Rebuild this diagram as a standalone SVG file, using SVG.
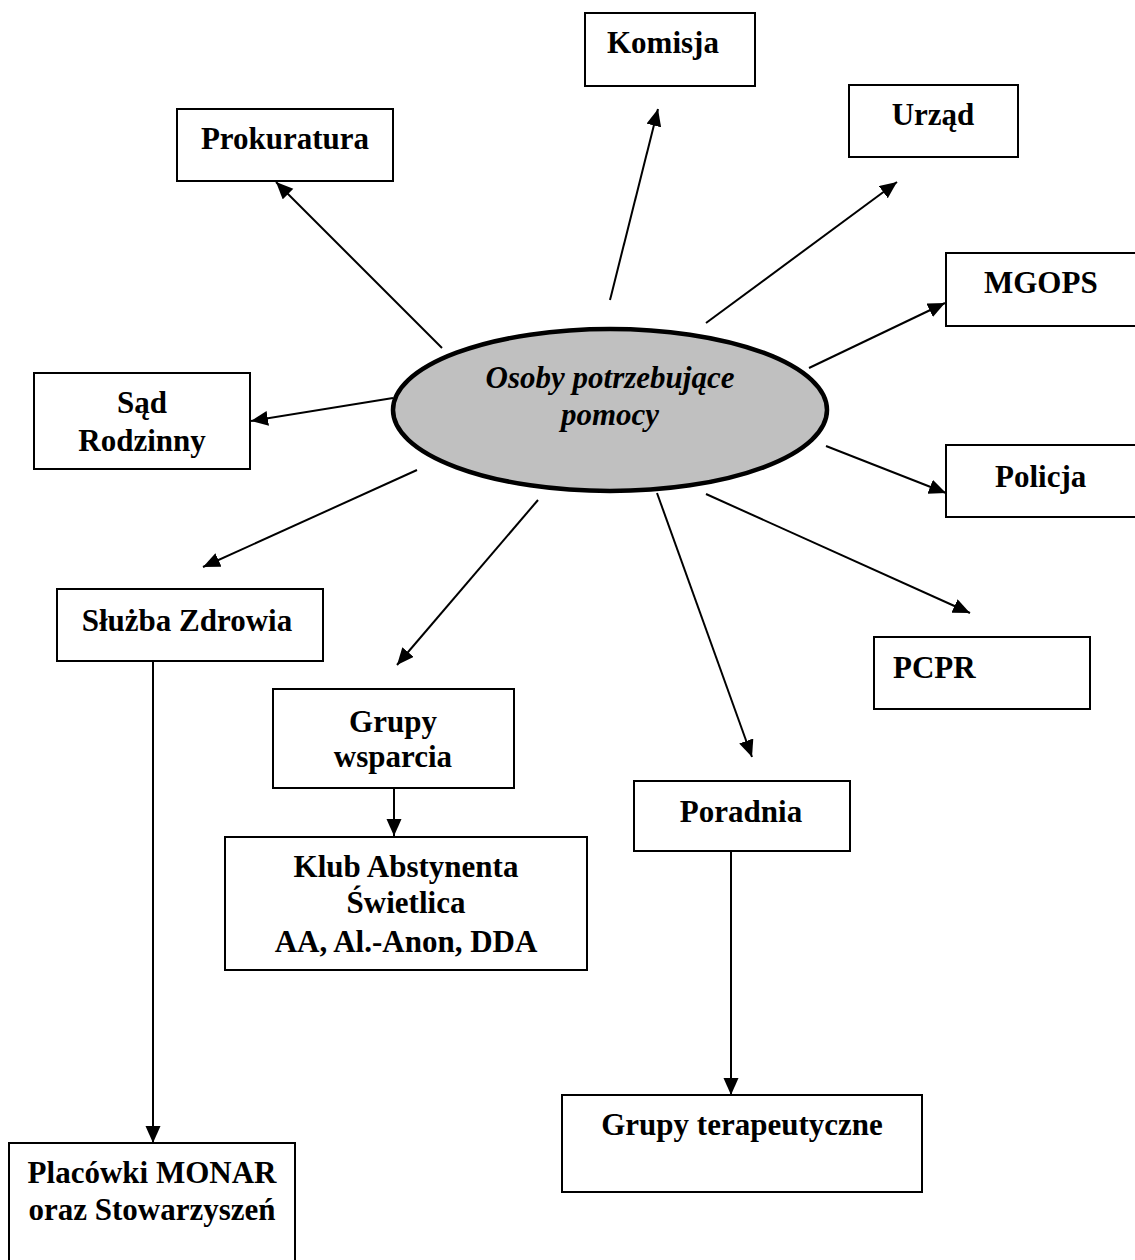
<svg xmlns="http://www.w3.org/2000/svg" width="1135" height="1260" viewBox="0 0 1135 1260">
<defs>
<style>
.box{fill:#fff;stroke:#000;stroke-width:2}
.t{font-family:"Liberation Serif","Times New Roman",serif;font-weight:bold;font-size:31px;fill:#000}
.c{text-anchor:middle}
.ln{stroke:#000;stroke-width:2;fill:none;marker-end:url(#ah)}
</style>
<marker id="ah" markerUnits="userSpaceOnUse" markerWidth="18" markerHeight="16" refX="17" refY="7.5" orient="auto">
<path d="M0,0 L17,7.5 L0,15 z" fill="#000"/>
</marker>
</defs>
<rect width="1135" height="1260" fill="#fff"/>
<g id="connectors">
<line class="ln" x1="442" y1="348" x2="276" y2="182"/>
<line class="ln" x1="610" y1="300" x2="658" y2="109"/>
<line class="ln" x1="706" y1="323" x2="897" y2="182"/>
<line class="ln" x1="809" y1="368" x2="945" y2="303"/>
<line class="ln" x1="826" y1="446" x2="946" y2="493"/>
<line class="ln" x1="706" y1="494" x2="970" y2="613"/>
<line class="ln" x1="657" y1="493" x2="752" y2="757"/>
<line class="ln" x1="538" y1="500" x2="397" y2="665"/>
<line class="ln" x1="417" y1="470" x2="203" y2="567"/>
<line class="ln" x1="393" y1="398" x2="251" y2="421"/>
<line class="ln" x1="394" y1="788" x2="394" y2="836"/>
<line class="ln" x1="153" y1="661" x2="153" y2="1143"/>
<line class="ln" x1="731" y1="851" x2="731" y2="1095"/>
</g>
<g id="center">
<ellipse cx="610" cy="410" rx="217" ry="81" fill="#c0c0c0" stroke="#000" stroke-width="4.5"/>
<text class="t c" x="610" y="388" font-style="italic">Osoby potrzebujące</text>
<text class="t c" x="610" y="425" font-style="italic">pomocy</text>
</g>
<g id="komisja">
<rect class="box" x="585" y="13" width="170" height="73"/>
<text class="t" x="607" y="53">Komisja</text>
</g>
<g id="prokuratura">
<rect class="box" x="177" y="109" width="216" height="72"/>
<text class="t c" x="285" y="149">Prokuratura</text>
</g>
<g id="urzad">
<rect class="box" x="849" y="85" width="169" height="72"/>
<text class="t c" x="933" y="125">Urząd</text>
</g>
<g id="mgops">
<rect class="box" x="946" y="253" width="200" height="73"/>
<text class="t" x="984" y="293">MGOPS</text>
</g>
<g id="sad">
<rect class="box" x="34" y="373" width="216" height="96"/>
<text class="t c" x="142" y="413">Sąd</text>
<text class="t c" x="142" y="451">Rodzinny</text>
</g>
<g id="policja">
<rect class="box" x="946" y="445" width="200" height="72"/>
<text class="t" x="995" y="487">Policja</text>
</g>
<g id="pcpr">
<rect class="box" x="874" y="637" width="216" height="72"/>
<text class="t" x="893" y="678">PCPR</text>
</g>
<g id="sluzba">
<rect class="box" x="57" y="589" width="266" height="72"/>
<text class="t c" x="187" y="631">Służba Zdrowia</text>
</g>
<g id="grupy-wsparcia">
<rect class="box" x="273" y="689" width="241" height="99"/>
<text class="t c" x="393" y="732">Grupy</text>
<text class="t c" x="393" y="767">wsparcia</text>
</g>
<g id="poradnia">
<rect class="box" x="634" y="781" width="216" height="70"/>
<text class="t c" x="741" y="822">Poradnia</text>
</g>
<g id="klub">
<rect class="box" x="225" y="837" width="362" height="133"/>
<text class="t c" x="406" y="877">Klub Abstynenta</text>
<text class="t c" x="406" y="913">Świetlica</text>
<text class="t c" x="406" y="952">AA, Al.-Anon, DDA</text>
</g>
<g id="grupy-terapeutyczne">
<rect class="box" x="562" y="1095" width="360" height="97"/>
<text class="t c" x="742" y="1135">Grupy terapeutyczne</text>
</g>
<g id="placowki">
<rect class="box" x="9" y="1143" width="286" height="130"/>
<text class="t c" x="152" y="1183">Placówki MONAR</text>
<text class="t c" x="152" y="1220">oraz Stowarzyszeń</text>
</g>
</svg>
